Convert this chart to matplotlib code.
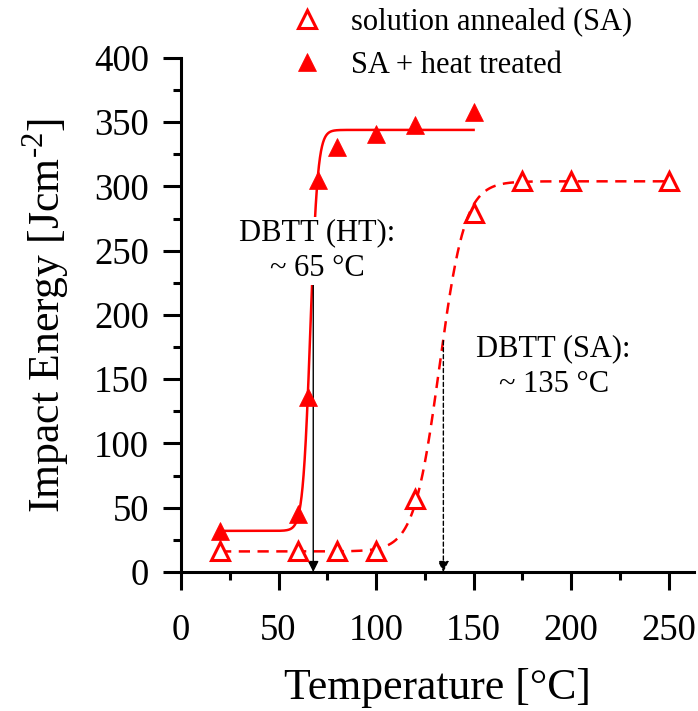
import numpy as np
import matplotlib
matplotlib.use("Agg")
import matplotlib.pyplot as plt
from matplotlib.ticker import MultipleLocator

plt.rcParams['font.family'] = ['Liberation Serif', 'DejaVu Serif']
plt.rcParams['mathtext.fontset'] = 'custom'
plt.rcParams['mathtext.rm'] = 'Liberation Serif'

# data
sa_temp = [20, 60, 80, 100, 120, 150, 175, 200, 250]
sa_energy = [16, 16, 16, 16, 57, 279, 304, 304, 304]

ht_temp = [20, 60, 65, 70, 80, 100, 120, 150]
ht_energy = [32, 45, 136, 305, 331, 341, 348, 358]

# Boltzmann fit parameters (lower, upper, centre, width)
sa_fit = (16, 304, 132.5, 6.5)
ht_fit = (32, 344, 66.3, 1.9)

dbtt_ht = 67.8
dbtt_sa = 134.5


def boltzmann(x, a1, a2, x0, dx):
    return a2 + (a1 - a2) / (1 + np.exp((x - x0) / dx))


RED = "#ff0000"

fig = plt.figure(figsize=(6.98, 7.11), dpi=100)
ax = fig.add_axes([0.2593, 0.1955, 0.735, 0.723])

# fit curves
xs = np.linspace(20, 250, 1500)
ax.plot(xs, boltzmann(xs, *sa_fit), color=RED, lw=1.8, ls=(0, (4.5, 3)), zorder=2)
xh = np.linspace(20, 150, 1500)
ax.plot(xh, boltzmann(xh, *ht_fit), color=RED, lw=1.8, zorder=2)

# arrows
ax.annotate("", xy=(dbtt_ht, 0), xytext=(dbtt_ht, 225),
            arrowprops=dict(arrowstyle="-|>", color="black", lw=1.0,
                            mutation_scale=16, shrinkA=0, shrinkB=0), zorder=3)
ax.annotate("", xy=(dbtt_sa, 0), xytext=(dbtt_sa, 180),
            arrowprops=dict(arrowstyle="-|>", color="black", lw=1.0, ls=(0, (3, 2)),
                            mutation_scale=16, shrinkA=0, shrinkB=0), zorder=3)

# markers
ax.plot(sa_temp, sa_energy, ls="none", marker="^", ms=12.5, mfc="white",
        mec=RED, mew=2.2, zorder=4, label="solution annealed (SA)")
ax.plot(ht_temp, ht_energy, ls="none", marker="^", ms=13, mfc=RED,
        mec=RED, mew=0.5, zorder=4, label="SA + heat treated")

# labels
ax.text(69.8, 250, "DBTT (HT):\n~ 65 °C", ha="center", va="center",
        fontsize=22, linespacing=1.32, zorder=5,
        bbox=dict(facecolor="white", edgecolor="none", pad=1))
ax.text(191, 160, "DBTT (SA):\n~ 135 °C", ha="center", va="center",
        fontsize=22, linespacing=1.32, zorder=5)

ax.set_xlim(0, 263)
ax.set_ylim(0, 400)
ax.xaxis.set_major_locator(MultipleLocator(50))
ax.xaxis.set_minor_locator(MultipleLocator(25))
ax.yaxis.set_major_locator(MultipleLocator(50))
ax.yaxis.set_minor_locator(MultipleLocator(25))

for side in ["top", "right"]:
    ax.spines[side].set_visible(False)
for side in ["left", "bottom"]:
    ax.spines[side].set_linewidth(2.2)

ax.tick_params(which="major", direction="out", length=13, width=2.2,
               labelsize=26.5)
ax.tick_params(axis="y", which="major", pad=10)
ax.tick_params(axis="x", which="major", pad=17)
ax.tick_params(which="minor", direction="out", length=6, width=2.2)

ax.set_xlabel("Temperature [°C]", fontsize=31.5, labelpad=14)
ax.set_ylabel("Impact Energy [Jcm$^{\\text{-}2}$]", fontsize=31.5, labelpad=16)

ax.legend(loc="upper left", bbox_to_anchor=(0.414, 0.989),
          bbox_transform=fig.transFigure, frameon=False,
          fontsize=22, handlelength=1.2, handletextpad=0.82, labelspacing=0.45,
          borderpad=0, borderaxespad=0)

fig.savefig("out.png", dpi=100)
